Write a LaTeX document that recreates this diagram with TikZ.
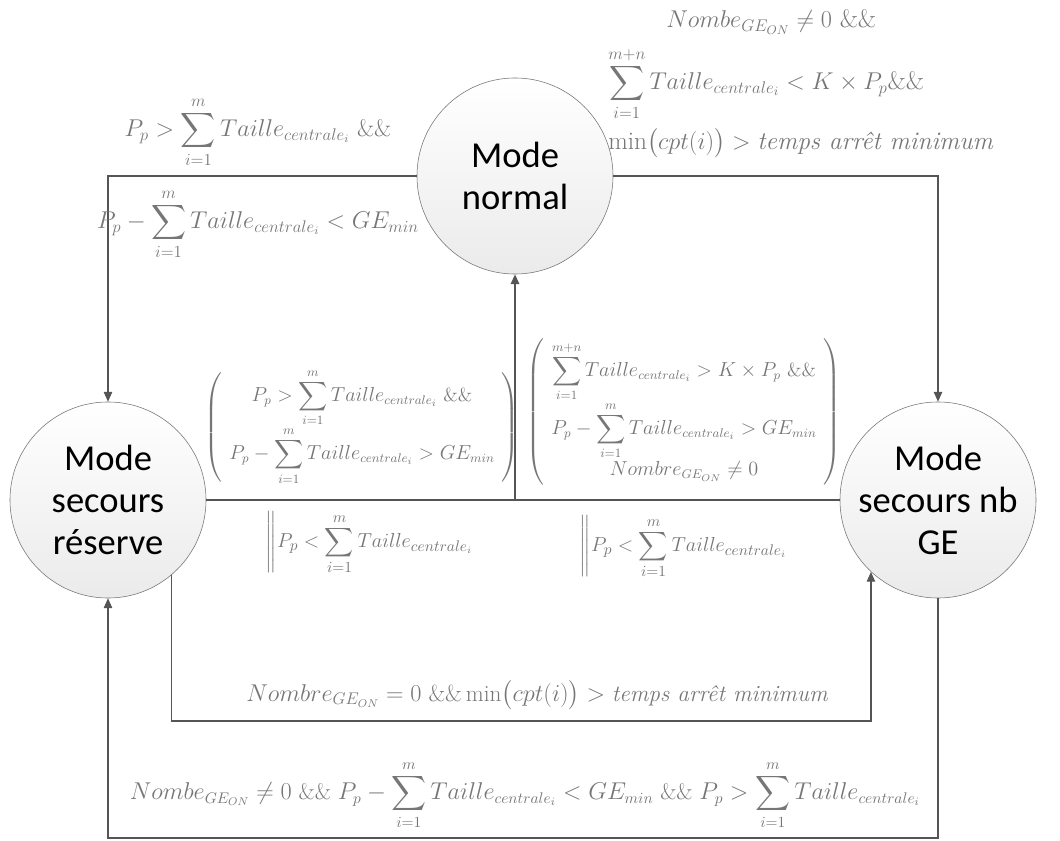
\documentclass[tikz,border=0pt]{standalone}
\usepackage{amsmath}
\usepackage{fontspec}
\newfontfamily\calibri{Carlito}
\usetikzlibrary{arrows.meta}
\definecolor{edgegray}{RGB}{85,85,85}
\definecolor{condgray}{RGB}{118,118,118}
\newcommand{\tcent}{Taille_{centrale_i}}
\newcommand{\sumi}[1]{\displaystyle\sum_{i=1}^{#1}}

\begin{document}
\begin{tikzpicture}[x=0.025cm, y=-0.025cm, >={Triangle[length=7pt,width=6pt]},
  mode/.style={draw=black!55, circle, minimum size=4.9cm, inner sep=0pt, top color=white, bottom color=black!8, align=center, text=black, font=\calibri\fontsize{26}{30}\selectfont},
  trans/.style={->, draw=edgegray, line width=0.9pt},
  cond/.style={text=condgray, align=center, inner sep=0pt, font=\fontsize{17}{20}\selectfont},
  smallcond/.style={cond, font=\fontsize{13.5}{16}\selectfont}]
\useasboundingbox (0,0) rectangle (1060,841);
\node[mode] (normal) at (515,176) {Mode\\normal};
\node[mode] (reserve) at (108,500) {Mode\\secours\\réserve};
\node[mode] (nbge) at (938,500) {Mode\\secours nb\\GE};
\coordinate (lowA) at (0,721);
\coordinate (lowB) at (0,838);
\coordinate (mid) at (normal.south |- reserve.east);
\draw[trans] (normal.west) -| (reserve.north);
\draw[trans] (normal.east) -| (nbge.north);
\draw[draw=edgegray, line width=0.9pt] (reserve.east) -- (nbge.west);
\draw[trans, line width=1.4pt] (mid) -- (normal.south);
\draw[trans] (reserve.-50) -- (reserve.-50 |- lowA) -| (nbge.-133);
\draw[trans] (nbge.south) -- (nbge.south |- lowB) -| (reserve.south);
% conditions
\node[cond] (condTL) at (258,178) {$P_p > \sumi{m}\tcent~\&\&$\\[14pt] $P_p - \sumi{m}\tcent < GE_{min}$};
\node[cond, align=left, anchor=west, font=\fontsize{18}{21}\selectfont] (condTR) at (608,84) {\hspace*{1.45cm}$Nombe_{GE_{ON}} \neq 0~\&\&$\\[8pt] $\sumi{m+n}\tcent < K\times P_p\&\&$\\[5pt] $\min\bigl(cpt(i)\bigr) > \textit{temps arrêt minimum}$};
\node[smallcond] (condML) at (362,427) {$\left(\begin{array}{c}P_p > \sumi{m}\tcent~\&\& \\[4pt] P_p - \sumi{m}\tcent > GE_{min}\end{array}\right)$};
\node[smallcond] (condMR) at (684,412) {$\left(\begin{array}{c}\sumi{m+n}\tcent > K\times P_p~\&\& \\[4pt] P_p - \sumi{m}\tcent > GE_{min} \\ Nombre_{GE_{ON}} \neq 0\end{array}\right)$};
\node[cond, font=\fontsize{15}{18}\selectfont] (condBL) at (370,543) {$\left\| P_p < \sumi{m}\tcent \right.$};
\node[cond, font=\fontsize{15}{18}\selectfont] (condBR) at (684,547) {$\left\| P_p < \sumi{m}\tcent \right.$};
\node[cond, font=\fontsize{16.5}{20}\selectfont] (condIn) at (537,695) {$Nombre_{GE_{ON}} = 0~\&\&\min\bigl(cpt(i)\bigr) > \textit{temps arrêt minimum}$};
\node[cond, font=\fontsize{16}{19}\selectfont] (condOut) at (525,795) {$Nombe_{GE_{ON}} \neq 0~\&\&~P_p - \sumi{m}\tcent < GE_{min}~\&\&~P_p > \sumi{m}\tcent$};
\end{tikzpicture}
\end{document}
